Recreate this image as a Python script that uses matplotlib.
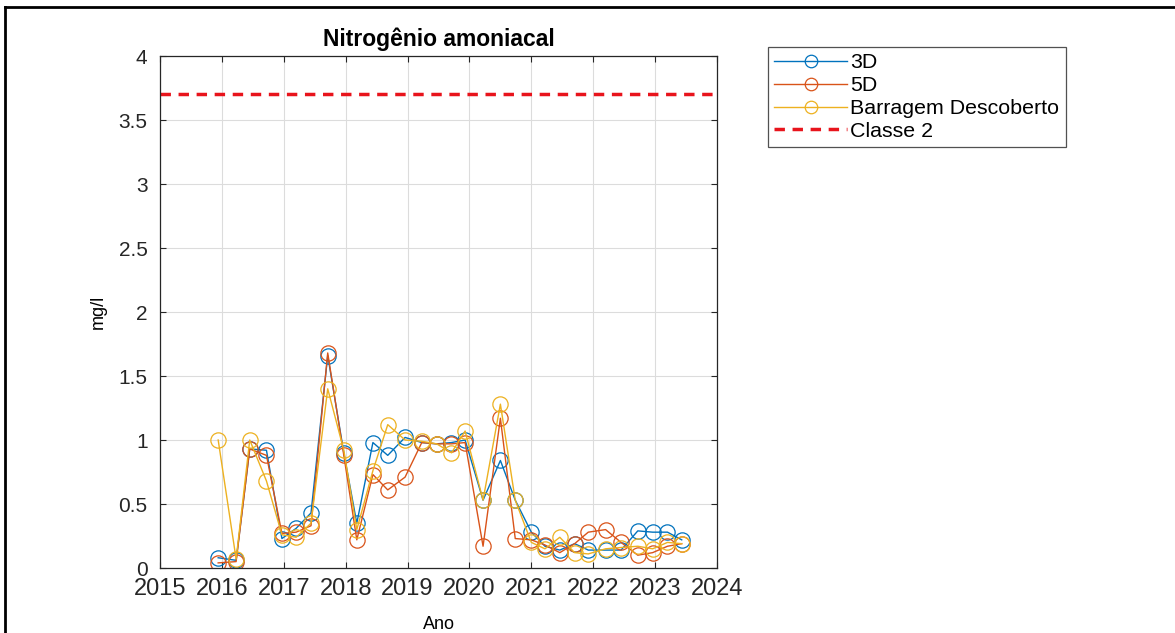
import matplotlib.pyplot as plt
from matplotlib.lines import Line2D

plt.rcParams['font.family'] = ['Liberation Sans', 'DejaVu Sans']

# Sampling dates (decimal years)
anos = [2015.94, 2016.23, 2016.45, 2016.72, 2016.97, 2017.20, 2017.44, 2017.71,
        2017.97, 2018.18, 2018.44, 2018.68, 2018.96, 2019.23, 2019.47, 2019.71,
        2019.93, 2020.22, 2020.50, 2020.74, 2021.00, 2021.22, 2021.46, 2021.70,
        2021.92, 2022.20, 2022.45, 2022.72, 2022.96, 2023.20, 2023.43]

# Ammoniacal nitrogen (mg/l)
val_3d = [0.08, 0.06, 0.93, 0.92, 0.23, 0.31, 0.43, 1.66, 0.90, 0.35, 0.98,
          0.88, 1.02, 0.98, 0.97, 0.98, 1.00, 0.53, 0.84, 0.53, 0.28, 0.17,
          0.14, 0.19, 0.14, 0.14, 0.14, 0.29, 0.28, 0.28, 0.22]
val_5d = [0.04, 0.05, 0.93, 0.88, 0.27, 0.28, 0.33, 1.68, 0.88, 0.22, 0.73,
          0.61, 0.71, 0.98, 0.97, 0.97, 0.98, 0.17, 1.17, 0.23, 0.22, 0.18,
          0.12, 0.19, 0.28, 0.30, 0.20, 0.10, 0.12, 0.17, 0.19]
val_barragem = [1.00, 0.07, 1.00, 0.68, 0.26, 0.24, 0.35, 1.40, 0.92, 0.30,
                0.76, 1.12, 1.00, 0.99, 0.97, 0.90, 1.07, 0.53, 1.28, 0.53,
                0.20, 0.15, 0.24, 0.12, 0.11, 0.15, 0.16, 0.17, 0.15, 0.20,
                0.19]
classe2 = 3.7

series = [('3D', val_3d, '#0072BD'),
          ('5D', val_5d, '#D95319'),
          ('Barragem Descoberto', val_barragem, '#EDB120')]

fig = plt.figure(figsize=(11.75, 6.33), dpi=100)
ax = fig.add_axes([160 / 1175, 1 - 568 / 633, 557 / 1175, 512 / 633])

for nome, vals, cor in series:
    ax.plot(anos, vals, color=cor, linewidth=1, marker='o', markersize=11,
            markerfacecolor='none', markeredgewidth=0.9, label=nome)

ax.axhline(classe2, color='#e8141c', linestyle=(0, (3, 2.2)), linewidth=2.5,
           label='Classe 2')

ax.set_xlim(2015, 2024)
ax.set_ylim(0, 4)
ax.set_xticks(range(2015, 2025))
ax.set_yticks([0, 0.5, 1, 1.5, 2, 2.5, 3, 3.5, 4])
ax.set_yticklabels(['0', '0.5', '1', '1.5', '2', '2.5', '3', '3.5', '4'])
ax.tick_params(direction='in', top=True, right=True, length=4,
               colors='#262626')
ax.tick_params(axis='x', labelsize=17, pad=7)
ax.tick_params(axis='y', labelsize=15, pad=9)
ax.grid(True, color='#dcdcdc', linewidth=0.8)
ax.set_axisbelow(True)
for s in ax.spines.values():
    s.set_color('#262626')
    s.set_linewidth(0.9)

ax.set_title('Nitrogênio amoniacal', fontsize=16.5, fontweight='bold', pad=7)
ax.set_xlabel('Ano', fontsize=13, labelpad=12)
ax.set_ylabel('mg/l', fontsize=13, labelpad=8)

leg = ax.legend(loc='upper left', bbox_to_anchor=(768 / 1175, 1 - 47 / 633),
                bbox_transform=fig.transFigure, fontsize=15.4, frameon=True,
                fancybox=False, edgecolor='#262626', borderaxespad=0,
                handlelength=3.4, handletextpad=0.15, labelspacing=0.18,
                borderpad=0.3)
leg.get_frame().set_linewidth(0.9)
for h in leg.legend_handles[:3]:
    h.set_markersize(9)

# outer frame (top and left edges visible in the reference)
fig.add_artist(Line2D([5 / 1175, 1.0], [1 - 7 / 633, 1 - 7 / 633],
                      color='black', linewidth=2, transform=fig.transFigure))
fig.add_artist(Line2D([5 / 1175, 5 / 1175], [0.0, 1 - 7 / 633],
                      color='black', linewidth=2, transform=fig.transFigure))

plt.savefig('out.png', dpi=100)
